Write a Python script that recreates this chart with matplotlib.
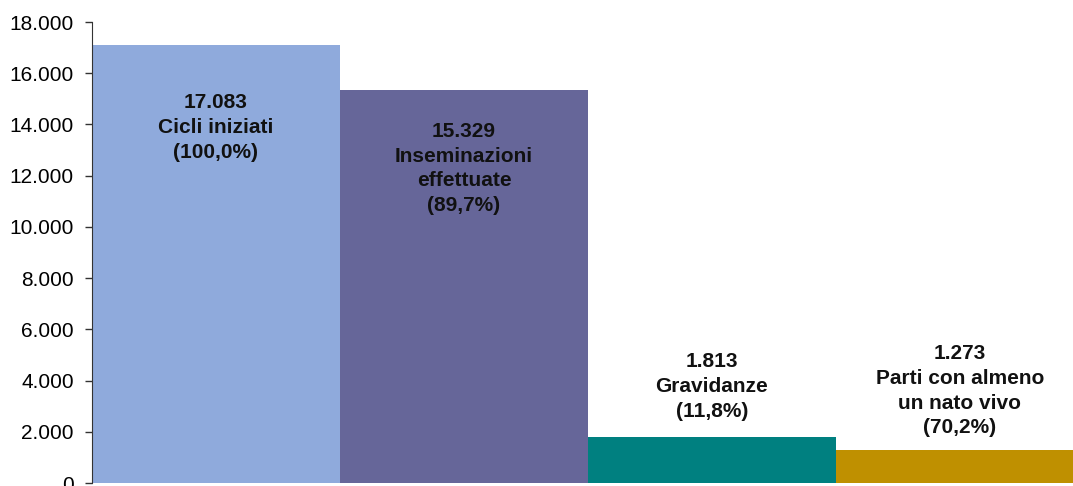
import matplotlib.pyplot as plt
from matplotlib.ticker import FuncFormatter

plt.rcParams['font.family'] = ['Liberation Sans', 'DejaVu Sans']

valori = [17083, 15329, 1813, 1273]
descrizioni = ['Cicli iniziati', 'Inseminazioni\neffettuate', 'Gravidanze', 'Parti con almeno\nun nato vivo']
percentuali = ['100,0%', '89,7%', '11,8%', '70,2%']
colori = ['#8FAADC', '#666699', '#008080', '#BF9000']

fig = plt.figure(figsize=(10.73, 4.86), dpi=100)
ax = fig.add_axes([92 / 1073, 3 / 486, 981 / 1073, 461 / 486])

x = range(len(valori))
ax.bar(x, valori, width=1.0, align='edge', color=colori)

# label offsets (data units) relative to bar height
offsets = [-3200, -3050, 1950, 2330]
for i, (v, d, p) in enumerate(zip(valori, descrizioni, percentuali)):
    testo = f"{v:,}".replace(',', '.') + "\n" + d + "\n(" + p + ")"
    ax.text(i + 0.5, v + offsets[i], testo, ha='center', va='center',
            fontsize=15, fontweight='bold', color='#111111', linespacing=1.38)

ax.set_xlim(0, 981 / 248)
ax.set_ylim(0, 18000)
ax.set_yticks(range(0, 18001, 2000))
ax.yaxis.set_major_formatter(FuncFormatter(lambda v, _: f"{int(v):,}".replace(',', '.')))
ax.tick_params(axis='y', labelsize=15, length=5, width=1, color='#333333', pad=8)
ax.set_xticks([])
for s in ['top', 'right', 'bottom']:
    ax.spines[s].set_visible(False)
ax.spines['left'].set_color('#333333')

fig.savefig('out.png', dpi=100)
